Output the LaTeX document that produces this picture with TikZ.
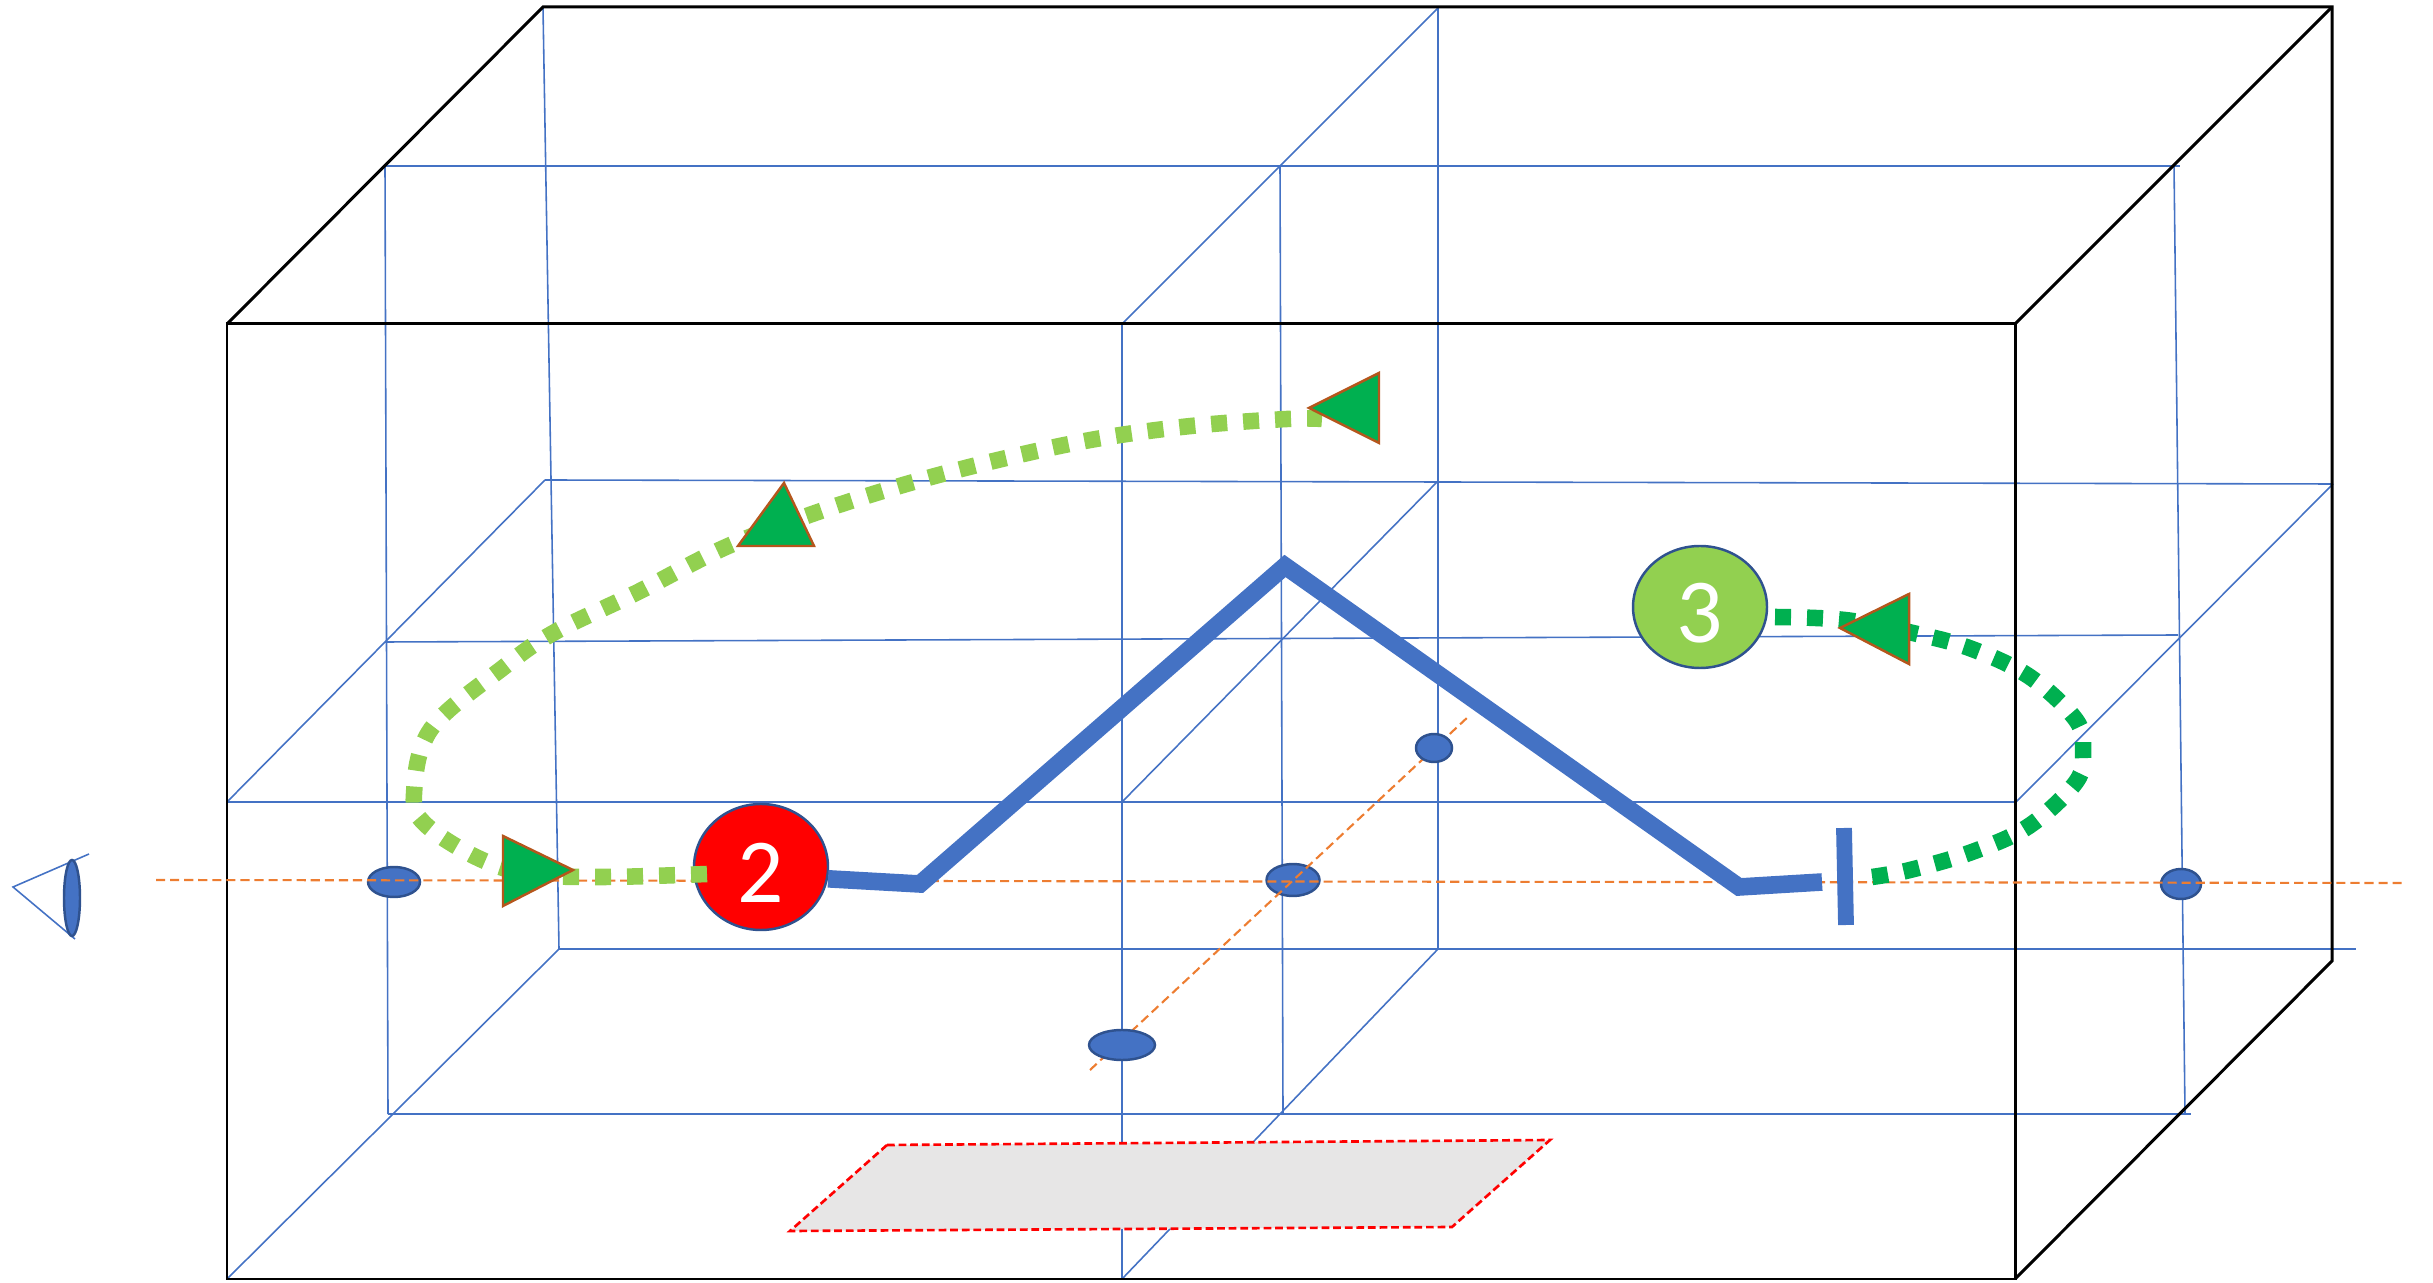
\documentclass[tikz,border=0pt]{standalone}
\usepackage{fontspec}
\setmainfont{Carlito}
\usetikzlibrary{shapes.geometric}

\definecolor{gridblue}{HTML}{4472C4}
\definecolor{rimblue}{HTML}{2F528F}
\definecolor{rayorange}{HTML}{ED7D31}
\definecolor{lightgreen}{HTML}{92D050}
\definecolor{darkgreen}{HTML}{00B050}
\definecolor{tipbrown}{HTML}{B5561C}
\definecolor{floorgray}{HTML}{E7E6E6}

\tikzset{
  gridline/.style={color=gridblue,line width=0.45pt},
  boxline/.style={color=black,line width=0.85pt},
  rayline/.style={color=rayorange,line width=0.6pt,dash pattern=on 2.6pt off 1.4pt},
  dotmark/.style={ellipse,draw=rimblue,fill=gridblue,line width=0.7pt,inner sep=0pt},
  ballmark/.style={ellipse,draw=rimblue,line width=0.7pt,inner sep=0pt,text=white,text height=20pt,text depth=0pt,font=\fontsize{26}{26}\selectfont},
  pathdots/.style={line width=4.7pt,dash pattern=on 4.55pt off 4.55pt},
  tipmark/.style={draw=tipbrown,fill=darkgreen,line width=0.7pt,line join=miter}
}

\begin{document}
\begin{tikzpicture}[x=0.01cm,y=-0.01cm]
\useasboundingbox (0,0) rectangle (2433,1283);

% Draw the blue grid
\draw[gridline] (385,166) -- (2180,166);
\draw[gridline] (545,480) -- (2333,484);
\draw[gridline] (385,642) -- (2178,635);
\draw[gridline] (227,802) -- (2016,802);
\draw[gridline] (559,949) -- (2356,949);
\draw[gridline] (388,1114) -- (2191,1114);
\draw[gridline] (385,166) -- (388,1114);
\draw[gridline] (543,8) -- (559,949);
\draw[gridline] (1122,324) -- (1122,1279);
\draw[gridline] (1280,166) -- (1283,1114);
\draw[gridline] (1438,8) -- (1438,949);
\draw[gridline] (2174,166) -- (2185,1114);
\draw[gridline] (227,802) -- (545,480);
\draw[gridline] (227,1279) -- (559,949);
\draw[gridline] (1122,324) -- (1438,8);
\draw[gridline] (1122,802) -- (1438,481);
\draw[gridline] (1122,1279) -- (1438,949);
\draw[gridline] (2016,802) -- (2333,484);

% Draw the black box
\draw[boxline] (227,324) rectangle (2015,1279);
\draw[boxline] (227,324) -- (543,7) -- (2332,7) -- (2332,961) -- (2015,1279);
\draw[boxline] (2015,324) -- (2332,7);

% Draw the floor patch
\fill[floorgray] (887,1145) -- (1550,1140) -- (1452,1227) -- (790,1231) -- cycle;
\draw[color=red,line width=0.75pt,dash pattern=on 2.2pt off 1.1pt] (887,1145) -- (1550,1140) -- (1452,1227) -- (790,1231) -- cycle;

% Draw the eye
\draw[gridline] (89,854) -- (13,887) -- (75,939);
\node[dotmark,minimum width=16*0.01cm,minimum height=76*0.01cm] (lens) at (72,898) {};

% Draw the rays and the dots on them
\node[dotmark,minimum width=53*0.01cm,minimum height=32*0.01cm] (dotmid) at (1293,880) {};
\draw[rayline] (1090,1070) -- (1469,716);
\node[dotmark,minimum width=66*0.01cm,minimum height=30*0.01cm] (dotfront) at (1122,1045) {};
\node[dotmark,minimum width=36*0.01cm,minimum height=28*0.01cm] (dotback) at (1434,748) {};
\node[dotmark,minimum width=52*0.01cm,minimum height=30*0.01cm] (dotleft) at (394,882) {};
\node[dotmark,minimum width=40*0.01cm,minimum height=30*0.01cm] (dotright) at (2181,884) {};
\draw[rayline] (156,880) -- (2402,883);

% Draw the two balls
\node[ballmark,fill=red,minimum width=134*0.01cm,minimum height=126*0.01cm] (ball2) at (761,867) {2};
\node[ballmark,fill=lightgreen,minimum width=134*0.01cm,minimum height=122*0.01cm] (ball3) at (1700,607) {3};

% Draw the bent blue path and its end bar
\draw[color=gridblue,line width=5pt,line join=miter] (ball2.-10) -- (920,884) -- (1285,566) -- (1739,887) -- (1822,882);
\draw[color=gridblue,line width=4.5pt] (1844,828) -- (1846,925);

% Draw the dotted paths
\draw[color=lightgreen,pathdots] plot[smooth,tension=0.6] coordinates {(707,874) (603,877) (530,874) (478,858) (425,824) (414,794) (431,729) (504,667) (555,632) (636,593) (726,547) (818,512) (910,483) (1002,459) (1096,439) (1191,426) (1287,419) (1322,419)};
\draw[color=darkgreen,pathdots] plot[smooth,tension=0.6] coordinates {(1775,617) (1845,620) (1913,633) (1972,649) (2030,677) (2076,720) (2083,751) (2076,782) (2029,826) (1972,852) (1910,870) (1872,877)};

% Draw the green tips
\draw[tipmark] (503,836) -- (573,870) -- (503,906) -- cycle;
\draw[tipmark] (784,483) -- (814,546) -- (738,546) -- cycle;
\draw[tipmark] (1309,408) -- (1379,373) -- (1379,443) -- cycle;
\draw[tipmark] (1840,628) -- (1909,594) -- (1909,664) -- cycle;

\end{tikzpicture}
\end{document}
